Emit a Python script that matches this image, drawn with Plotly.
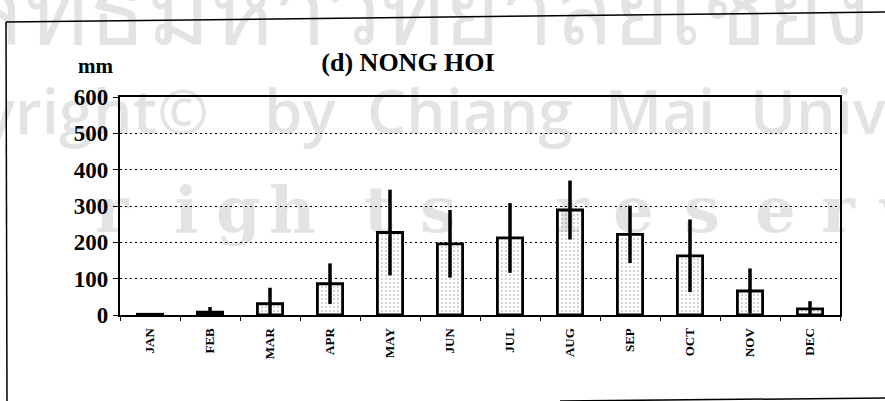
import plotly.graph_objects as go

# Monthly rainfall at Nong Hoi: mean (mm) and standard deviation
months = ["JAN", "FEB", "MAR", "APR", "MAY", "JUN",
          "JUL", "AUG", "SEP", "OCT", "NOV", "DEC"]
rain_mean = [2, 8, 31, 86, 227, 196, 212, 289, 222, 163, 66, 17]
rain_sd = [2, 14, 44, 56, 118, 93, 96, 81, 79, 100, 62, 21]
y_ticks = [0, 100, 200, 300, 400, 500, 600]

# page geometry
W, H = 885, 401
ML, MR, MT, MB = 120, 45, 97, 86
PW, PH = W - ML - MR, H - MT - MB


def px(x):
    return (x - ML) / PW


def py(y):
    return 1 - (y - MT) / PH


SERIF = "Liberation Serif, Times New Roman, serif"
WM_SANS = "Open Sans, DejaVu Sans, sans-serif"
WM_THAI = "DejaVu Sans, sans-serif"
WM_SERIF = "DejaVu Serif, serif"
WM_COLOR = "rgba(0,0,0,0.11)"

fig = go.Figure()
fig.add_trace(go.Bar(
    x=months,
    y=rain_mean,
    width=0.42,
    marker=dict(
        color="white",
        line=dict(color="black", width=2.8),
        pattern=dict(shape=".", fgcolor="#8a8a8a", bgcolor="white",
                     size=4, solidity=0.18),
    ),
    error_y=dict(type="data", array=rain_sd, visible=True,
                 color="black", thickness=3.5, width=0),
    showlegend=False,
))

fig.update_layout(
    width=W, height=H,
    margin=dict(l=ML, r=MR, t=MT, b=MB, pad=0),
    paper_bgcolor="white",
    plot_bgcolor="white",
    title=dict(text="<b>(d) NONG HOI</b>", x=408 / W, y=1 - 62 / H,
               xref="container", yref="container",
               xanchor="center", yanchor="middle",
               font=dict(family=SERIF, size=26, color="black")),
)

fig.update_xaxes(
    type="category",
    showline=True, linecolor="black", linewidth=2, mirror=True,
    ticks="outside", tickson="boundaries", ticklen=4, tickwidth=1,
    tickcolor="black",
    tickangle=-90,
    tickfont=dict(family=SERIF, size=13, color="black", weight="bold"),
    ticklabelstandoff=6,
    showgrid=False,
)
fig.update_yaxes(
    range=[0, 600],
    tickvals=y_ticks,
    ticktext=[f"<b>{v}</b>" for v in y_ticks],
    showline=True, linecolor="black", linewidth=2.2, mirror=True,
    ticks="outside", ticklen=5, tickwidth=1, tickcolor="black",
    tickfont=dict(family=SERIF, size=23, color="black"),
    showgrid=True, gridcolor="black", gridwidth=1, griddash="2px,3px",
    zeroline=False,
)

# unit label
fig.add_annotation(text="<b>mm</b>", x=px(95), y=py(66), xref="paper",
                   yref="paper", showarrow=False, xanchor="center",
                   yanchor="middle",
                   font=dict(family=SERIF, size=21, color="black"))

# background copyright watermark (three rows)
fig.add_annotation(text="ลิขสิทธิ์มหาวิทยาลัยเชียงใหม่", x=px(442),
                   y=py(4), xref="paper", yref="paper", showarrow=False,
                   xanchor="center", yanchor="middle",
                   font=dict(family=WM_THAI, size=96, color=WM_COLOR))

wm_words = ["Copyright©", "by", "Chiang", "Mai", "University"]
wm_word_x = [-136, 262, 365, 603, 748]
for word, wx in zip(wm_words, wm_word_x):
    fig.add_annotation(text=word, x=px(wx), y=py(110), xref="paper",
                       yref="paper", showarrow=False, xanchor="left",
                       yanchor="middle",
                       font=dict(family=WM_SANS, size=62, color=WM_COLOR,
                                 weight=600))

wm_letters = list("rightsreserv")
wm_letter_x = [112, 186, 238, 292, 379, 438, 572, 633, 702, 775, 838, 898]
for ch, lx in zip(wm_letters, wm_letter_x):
    fig.add_annotation(text=ch, x=px(lx), y=py(209), xref="paper",
                       yref="paper", showarrow=False, xanchor="center",
                       yanchor="middle",
                       font=dict(family=WM_SERIF, size=64, color=WM_COLOR,
                                 weight="bold"))

# outer page frame
frame = [((6, 22), (885, 12)), ((6, 22), (7, 401)), ((560, 401), (885, 398))]
for (x0, y0), (x1, y1) in frame:
    fig.add_shape(type="line", xref="paper", yref="paper",
                  x0=px(x0), y0=py(y0), x1=px(x1), y1=py(y1),
                  line=dict(color="black", width=1.5))

fig.write_html("out.html")
